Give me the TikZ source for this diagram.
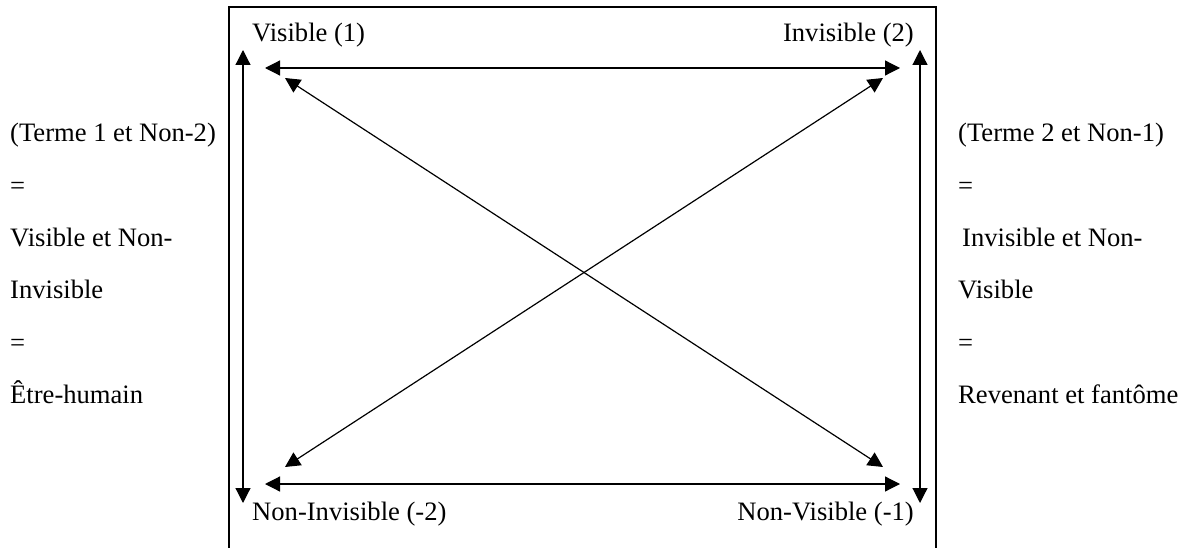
\documentclass[tikz,border=0pt]{standalone}
\usepackage{fontspec}
\setmainfont{Liberation Serif}
\usetikzlibrary{arrows.meta}
\tikzset{
  lbl/.style={inner sep=0pt, font=\fontsize{26.6}{31}\selectfont},
  dbl/.style={line width=1.2pt, {Triangle[length=15pt,width=15pt]}-{Triangle[length=15pt,width=15pt]}},
  frame/.style={line width=2.4pt}
}
\begin{document}
\begin{tikzpicture}[x=1pt,y=-1pt]
\useasboundingbox (0,0) rectangle (1185,548);
% frame
\draw[frame] (229,552) -- (229,7) -- (936,7) -- (936,552);
% corner labels
\node[lbl, anchor=base west] (v1) at (252,42) {Visible (1)};
\node[lbl, anchor=base east] (i2) at (914,42) {Invisible (2)};
\node[lbl, anchor=base west] (ni) at (252,520) {Non-Invisible (-2)};
\node[lbl, anchor=base east] (nv) at (914,520) {Non-Visible (-1)};
% arrow end points
\coordinate (ht1) at (265,68);  \coordinate (ht2) at (900,68);
\coordinate (hb1) at (265,484); \coordinate (hb2) at (900,484);
\coordinate (vl1) at (243,50);  \coordinate (vl2) at (243,503);
\coordinate (vr1) at (920,50);  \coordinate (vr2) at (920,503);
\coordinate (d1a) at (285,78);  \coordinate (d1b) at (883,467);
\coordinate (d2a) at (883,78);  \coordinate (d2b) at (285,467);
% arrows
\draw[dbl] (ht1) -- (ht2);
\draw[dbl] (hb1) -- (hb2);
\draw[dbl] (vl1) -- (vl2);
\draw[dbl] (vr1) -- (vr2);
\draw[dbl] (d1a) -- (d1b);
\draw[dbl] (d2a) -- (d2b);
% left text
\node[lbl, anchor=base west] (l1) at (10,142) {(Terme 1 et Non-2)};
\node[lbl, anchor=base west] (l2) at (10,194) {=};
\node[lbl, anchor=base west] (l3) at (10,246) {Visible et Non-};
\node[lbl, anchor=base west] (l4) at (10,298) {Invisible};
\node[lbl, anchor=base west] (l5) at (10,351) {=};
\node[lbl, anchor=base west] (l6) at (10,403) {Être-humain};
% right text
\node[lbl, anchor=base west] (r1) at (958,142) {(Terme 2 et Non-1)};
\node[lbl, anchor=base west] (r2) at (958,194) {=};
\node[lbl, anchor=base west] (r3) at (962,246) {Invisible et Non-};
\node[lbl, anchor=base west] (r4) at (958,298) {Visible};
\node[lbl, anchor=base west] (r5) at (958,351) {=};
\node[lbl, anchor=base west] (r6) at (958,403) {Revenant et fantôme};
\end{tikzpicture}
\end{document}
